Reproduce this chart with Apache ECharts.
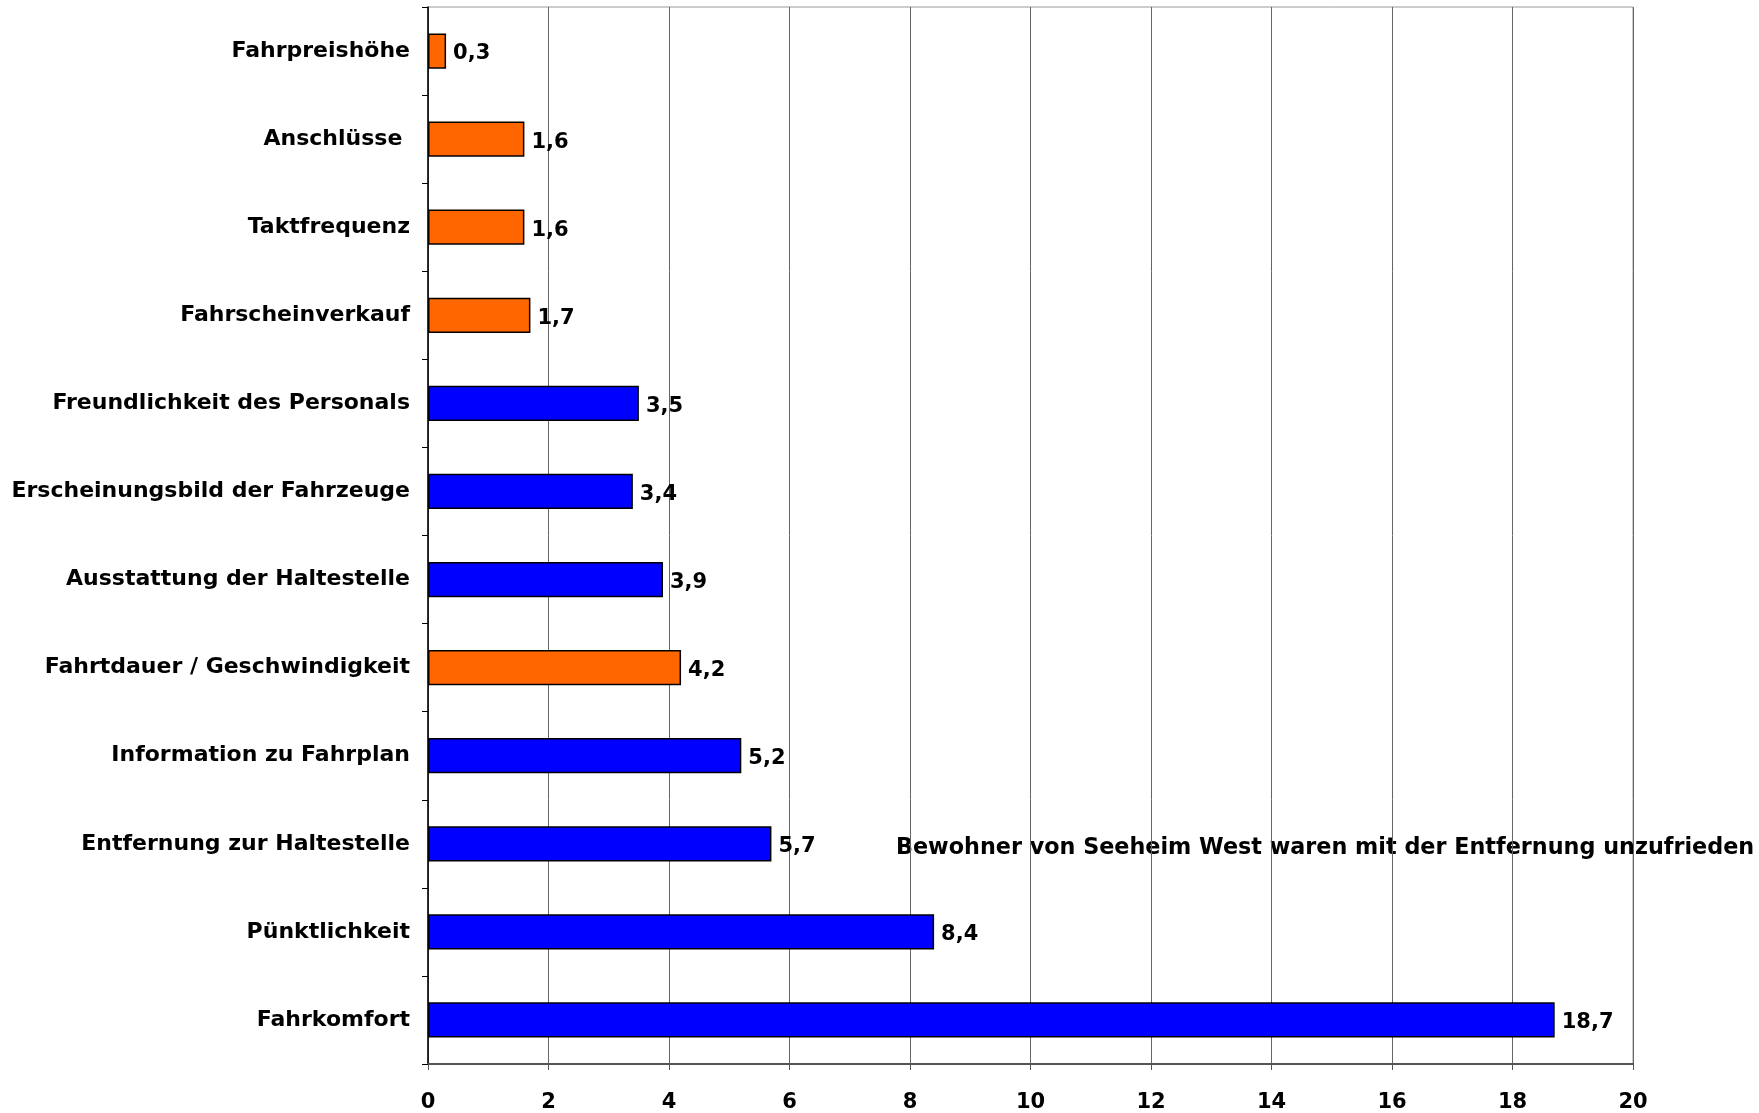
<!DOCTYPE html>
<html>
<head>
<meta charset="utf-8">
<script src="https://cdn.jsdelivr.net/npm/echarts@6/dist/echarts.min.js"></script>
<style>html,body{margin:0;padding:0;background:#fff}#c{width:1759px;height:1113px}</style>
</head>
<body>
<div id="c"></div>
<script>
var categories = ['Fahrpreishöhe','Anschlüsse ','Taktfrequenz','Fahrscheinverkauf','Freundlichkeit des Personals','Erscheinungsbild der Fahrzeuge','Ausstattung der Haltestelle','Fahrtdauer / Geschwindigkeit','Information zu Fahrplan','Entfernung zur Haltestelle','Pünktlichkeit','Fahrkomfort'];
var values = [0.3,1.6,1.6,1.7,3.5,3.4,3.9,4.2,5.2,5.7,8.4,18.7];
var groups = ['o','o','o','o','b','b','b','o','b','b','b','b'];
var xTicks = [0,2,4,6,8,10,12,14,16,18,20];
var note = 'Bewohner von Seeheim West waren mit der Entfernung unzufrieden';

var FONT = '"DejaVu Sans", "Liberation Sans", sans-serif';
function fmt(v){ return String(v).replace('.', ','); }
function pick(g){ return values.map(function(v,i){ return groups[i]===g ? v : '-'; }); }
var lbl = {show:true, position:'right', distance:7, color:'#000', fontFamily:FONT, fontWeight:'bold', fontSize:21,
  offset:[0,3],
  formatter:function(p){ return fmt(p.value); }};
function series(g, color){
  return {type:'bar', data:pick(g), barWidth:'40%', barGap:'-100%',
    itemStyle:{color:color, borderColor:'#000', borderWidth:1.5}, label:lbl};
}
var chart = echarts.init(document.getElementById('c'), null, {renderer:'canvas'});
chart.setOption({
  animation:false,
  grid:{left:428, right:126, top:7, bottom:49, show:true, borderColor:'#999', borderWidth:1},
  xAxis:{type:'value', min:xTicks[0], max:xTicks[xTicks.length-1], interval:2,
    axisLine:{show:true, lineStyle:{color:'#555', width:2}},
    axisTick:{show:true, length:6, lineStyle:{color:'#555'}},
    splitLine:{show:true, lineStyle:{color:'#666', width:1}},
    axisLabel:{margin:28, color:'#000', fontFamily:FONT, fontWeight:'bold', fontSize:21}},
  yAxis:{type:'category', data:categories, inverse:true,
    axisLine:{show:true, lineStyle:{color:'#000', width:1.5}},
    axisTick:{show:true, length:6, lineStyle:{color:'#000'}},
    axisLabel:{margin:18, color:'#000', fontFamily:FONT, fontWeight:'bold', fontSize:22, padding:[8,0,0,0]}},
  series:[series('o','#FF6600'), series('b','#0000FF')],
  graphic:[{type:'text', left:896, top:837, silent:true,
    style:{text:note, fill:'#000', font:'bold 22.3px ' + FONT}}]
});
</script>
</body>
</html>
